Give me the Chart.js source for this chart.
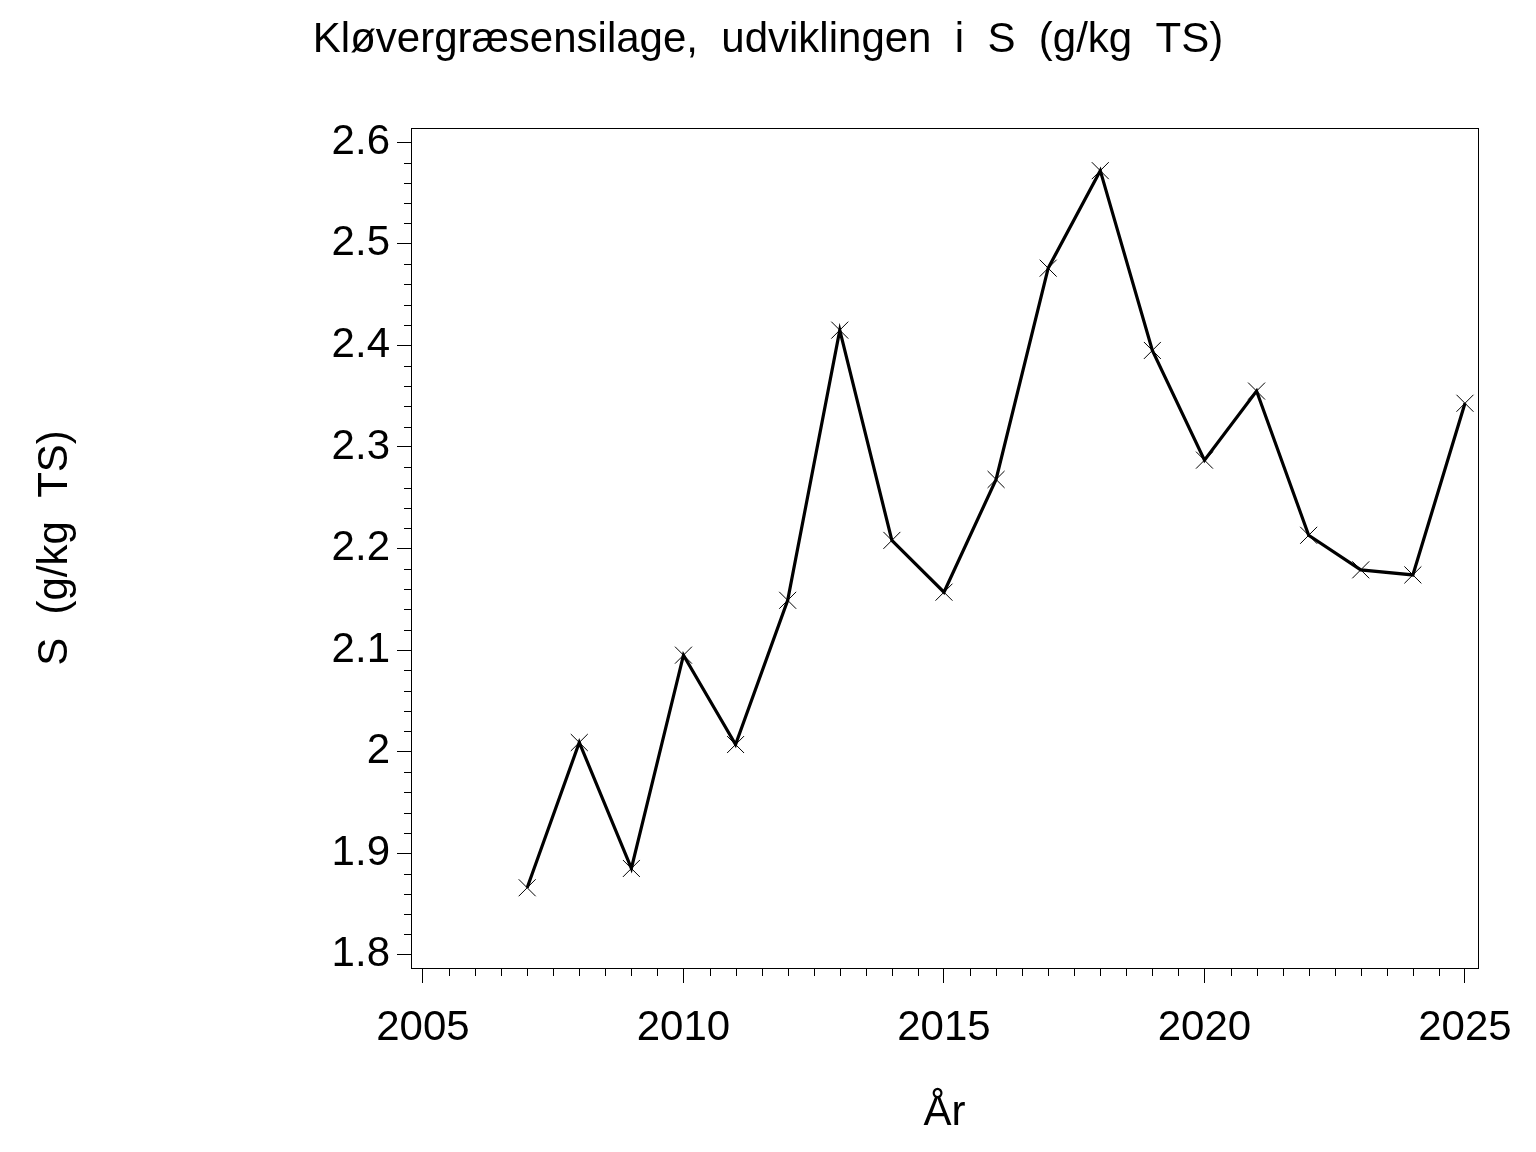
<!DOCTYPE html>
<html>
<head>
<meta charset="utf-8">
<script src="https://cdn.jsdelivr.net/npm/chart.js@4/dist/chart.umd.min.js"></script>
<style>
  html, body { margin: 0; padding: 0; background: #fff; }
  canvas { display: block; }
</style>
</head>
<body>
<canvas id="chart" width="1536" height="1152"></canvas>
<script>
const years = [2007, 2008, 2009, 2010, 2011, 2012, 2013, 2014, 2015, 2016, 2017, 2018, 2019, 2020, 2021, 2022, 2023, 2024, 2025];
const sValues = [1.866, 2.009, 1.885, 2.095, 2.007, 2.149, 2.415, 2.208, 2.157, 2.268, 2.476, 2.572, 2.395, 2.287, 2.355, 2.213, 2.179, 2.174, 2.343];

const xTicks = [2005, 2010, 2015, 2020, 2025];
const yTicks = [1.8, 1.9, 2, 2.1, 2.2, 2.3, 2.4, 2.5, 2.6];
const xMinorStep = 0.5;
const yMinorStep = 0.02;

const fontFamily = "'Liberation Sans', Arial, Helvetica, sans-serif";

// frame round the plot + the minor ticks SAS draws
const framePlugin = {
  id: "frame",
  afterDraw(chart) {
    const { ctx, chartArea } = chart;
    const xs = chart.scales.x;
    const ys = chart.scales.y;
    ctx.save();
    ctx.strokeStyle = "#000";
    ctx.lineWidth = 1;
    ctx.strokeRect(
      Math.round(chartArea.left) + 0.5,
      Math.round(chartArea.top) + 0.5,
      Math.round(chartArea.right - chartArea.left),
      Math.round(chartArea.bottom - chartArea.top)
    );
    ctx.beginPath();
    const y0 = yTicks[0];
    const y1 = yTicks[yTicks.length - 1];
    for (let i = 0; y0 + i * yMinorStep <= y1 + 1e-9; i++) {
      if (i % 5 === 0) continue;
      const py = Math.round(ys.getPixelForValue(y0 + i * yMinorStep)) + 0.5;
      ctx.moveTo(chartArea.left - 7, py);
      ctx.lineTo(chartArea.left, py);
    }
    const x0 = xTicks[0];
    const x1 = xTicks[xTicks.length - 1];
    for (let i = 0; x0 + i * xMinorStep <= x1 + 1e-9; i++) {
      if (i % 10 === 0) continue;
      const px = Math.round(xs.getPixelForValue(x0 + i * xMinorStep)) + 0.5;
      ctx.moveTo(px, chartArea.bottom);
      ctx.lineTo(px, chartArea.bottom + 8);
    }
    ctx.stroke();
    ctx.restore();
  },
};

const ctx = document.getElementById("chart").getContext("2d");
new Chart(ctx, {
  type: "line",
  data: {
    datasets: [
      {
        label: "S (g/kg TS)",
        data: years.map((y, i) => ({ x: y, y: sValues[i] })),
        borderColor: "#000",
        borderWidth: 3.2,
        tension: 0,
        pointStyle: "crossRot",
        pointRadius: 12,
        pointBorderWidth: 1,
        pointBorderColor: "#000",
        pointBackgroundColor: "#000",
      },
    ],
  },
  options: {
    responsive: false,
    animation: false,
    devicePixelRatio: 1,
    layout: { padding: { left: 58, right: 58, top: 0, bottom: 0 } },
    scales: {
      x: {
        type: "linear",
        min: 2004.77,
        max: 2025.25,
        afterBuildTicks: (scale) => {
          scale.ticks = xTicks.map((v) => ({ value: v }));
        },
        afterFit: (scale) => {
          scale.height = 184;
        },
        ticks: {
          color: "#000",
          font: { family: fontFamily, size: 42 },
          padding: 20,
          maxRotation: 0,
          callback: (v) => String(v),
        },
        grid: {
          drawOnChartArea: false,
          tickLength: 15,
          color: "#000",
          lineWidth: 1,
        },
        border: { display: false },
        title: {
          display: true,
          text: "År",
          color: "#000",
          font: { family: fontFamily, size: 42 },
          padding: { top: 0, bottom: 13 },
        },
      },
      y: {
        type: "linear",
        min: 1.787,
        max: 2.614,
        afterBuildTicks: (scale) => {
          scale.ticks = yTicks.map((v) => ({ value: v }));
        },
        afterFit: (scale) => {
          scale.width = 353;
        },
        ticks: {
          color: "#000",
          font: { family: fontFamily, size: 42 },
          padding: 7,
          callback: (v) => String(v),
        },
        grid: {
          drawOnChartArea: false,
          tickLength: 14,
          color: "#000",
          lineWidth: 1,
        },
        border: { display: false },
        title: {
          display: true,
          text: "S  (g/kg  TS)",
          color: "#000",
          font: { family: fontFamily, size: 42 },
          padding: { top: -28, bottom: 0 },
        },
      },
    },
    plugins: {
      legend: { display: false },
      tooltip: { enabled: false },
      title: {
        display: true,
        text: "Kløvergræsensilage,  udviklingen  i  S  (g/kg  TS)",
        color: "#000",
        font: { family: fontFamily, size: 42, weight: "normal" },
        padding: { top: 15, bottom: 62.6 },
      },
    },
  },
  plugins: [framePlugin],
});
</script>
</body>
</html>
